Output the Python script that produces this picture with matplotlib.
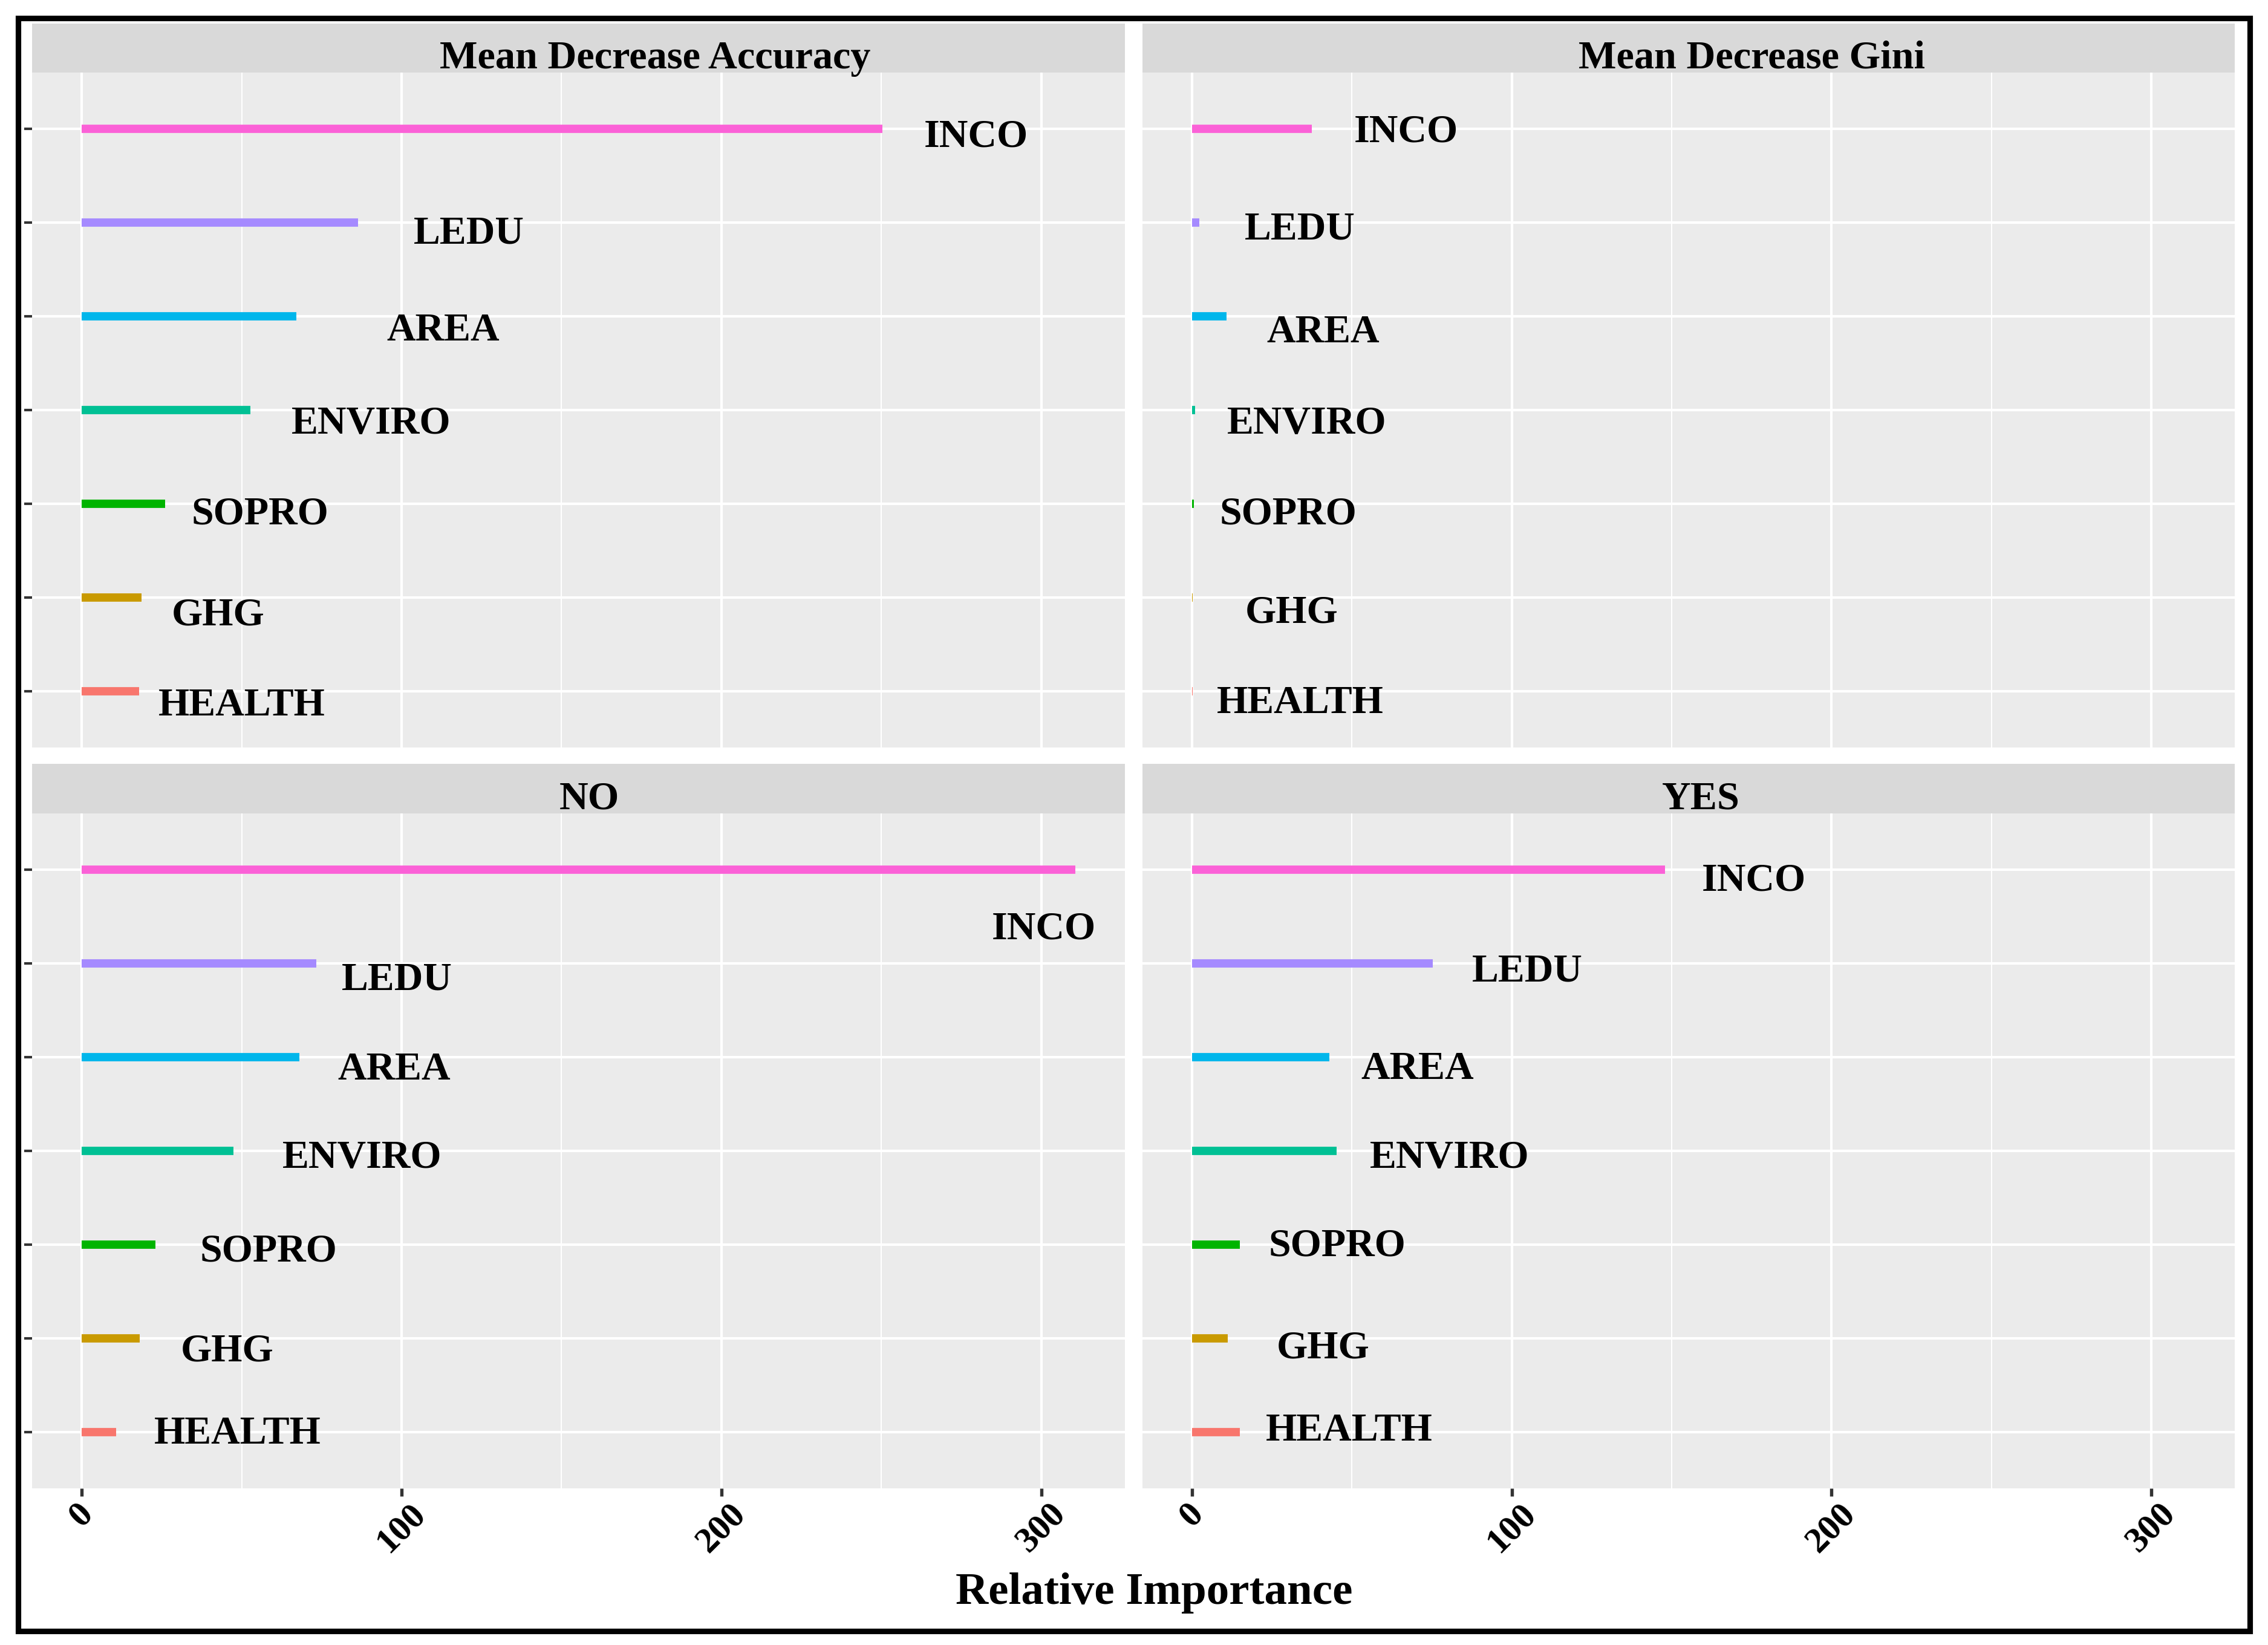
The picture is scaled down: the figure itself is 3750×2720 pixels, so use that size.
import matplotlib
matplotlib.use("Agg")
import matplotlib.pyplot as plt
from matplotlib.patches import Rectangle

# ---------------- data ----------------
variables = ["INCO", "LEDU", "AREA", "ENVIRO", "SOPRO", "GHG", "HEALTH"]
panel_titles = ["Mean Decrease Accuracy", "Mean Decrease Gini", "NO", "YES"]

mean_decrease_accuracy = [250.4, 86.4, 67.1, 52.7, 26.1, 18.6, 17.9]
mean_decrease_gini = [37.4, 2.3, 10.8, 0.9, 0.5, 0.25, 0.1]
importance_no = [310.6, 73.3, 68.0, 47.4, 23.1, 18.1, 10.8]
importance_yes = [147.9, 75.2, 42.9, 45.2, 14.9, 11.2, 14.9]

x_ticks = [0, 100, 200, 300]
x_minor = [50, 150, 250]
x_title = "Relative Importance"

# ggplot hue palette per variable
var_colors = {"INCO": "#FB61D7", "LEDU": "#A58AFF", "AREA": "#00B6EB",
              "ENVIRO": "#00C094", "SOPRO": "#00B400", "GHG": "#C99A00",
              "HEALTH": "#F8766D"}

# ---------------- label layout (repelled text offsets) ----------------
label_dx = [
    [29.1, 34.6, 45.9, 37.8, 29.6, 24.0, 32.1],
    [29.6, 31.4, 30.2, 34.9, 29.5, 30.8, 33.8],
    [-9.8, 25.2, 29.6, 40.3, 35.3, 27.3, 38.0],
    [27.8, 29.6, 27.5, 35.3, 30.5, 29.8, 34.2],
]
label_dy = [
    [-0.05, -0.08, -0.12, -0.11, -0.075, -0.155, -0.12],
    [0.0, -0.04, -0.14, -0.11, -0.075, -0.13, -0.09],
    [-0.60, -0.14, -0.10, -0.04, -0.04, -0.10, 0.015],
    [-0.08, -0.05, -0.09, -0.04, 0.02, -0.07, 0.05],
]
strip_text_x = [0.570, 0.558, 0.510, 0.511]

series = [mean_decrease_accuracy, mean_decrease_gini, importance_no, importance_yes]

W, H = 3750, 2720
fig = plt.figure(figsize=(W / 300, H / 300), dpi=300)
fig.patch.set_facecolor("white")

FONT = "Liberation Serif"

# panel geometry in pixels (left, right, top, bottom)
cols = [(53, 1860), (1889, 3695)]
rows = [(120, 1236, 39), (1345, 2461, 1263)]  # plot top, plot bottom, strip top

n = len(variables)
ypos = [n - i for i in range(n)]  # INCO at top
all_max = max(max(s) for s in series)
xlim = (-0.05 * all_max, 1.05 * all_max)

for k in range(4):
    r, c = divmod(k, 2)
    xl, xr = cols[c]
    pt, pb, st = rows[r]
    ax = fig.add_axes([xl / W, (H - pb) / H, (xr - xl) / W, (pb - pt) / H])
    ax.set_facecolor("#EBEBEB")
    for sp in ax.spines.values():
        sp.set_visible(False)
    ax.set_xlim(*xlim)
    ax.set_ylim(0.4, n + 0.6)
    ax.set_xticks(x_ticks)
    ax.set_xticks(x_minor, minor=True)
    ax.set_yticks(ypos)
    ax.grid(which="major", color="white", lw=1.0)
    ax.grid(which="minor", axis="x", color="white", lw=0.5)
    ax.set_axisbelow(True)
    ax.tick_params(axis="x", which="minor", length=0)

    vals = series[k]
    for i, v in enumerate(variables):
        ax.hlines(ypos[i], 0, vals[i], color=var_colors[v], lw=3.3,
                  capstyle="butt", zorder=3)
        ax.annotate(v, (vals[i] + label_dx[k][i], ypos[i] + label_dy[k][i]),
                    xytext=(0, -5.2), textcoords="offset points",
                    ha="center", va="baseline", fontsize=15.8,
                    fontweight="bold", family=FONT, color="black", zorder=4)

    # y axis: ticks only on left column, no labels
    if c == 0:
        ax.tick_params(axis="y", length=3.1, width=1.0, color="#333333",
                       labelleft=False)
    else:
        ax.tick_params(axis="y", length=0, labelleft=False)
    # x axis: only bottom row
    if r == 1:
        ax.tick_params(axis="x", which="major", length=3.1, width=1.3,
                       color="#333333", pad=0.5)
        ax.set_xticklabels([str(t) for t in x_ticks], rotation=45,
                           fontsize=14.3, fontweight="bold", family=FONT,
                           color="black")
    else:
        ax.tick_params(axis="x", which="major", length=0, labelbottom=False)

    # strip
    sax = fig.add_axes([xl / W, (H - pt) / H, (xr - xl) / W, (pt - st) / H])
    sax.set_facecolor("#D9D9D9")
    sax.set_xticks([])
    sax.set_yticks([])
    for sp in sax.spines.values():
        sp.set_visible(False)
    sax.text(strip_text_x[k], 0.09, panel_titles[k], transform=sax.transAxes,
             ha="center", va="baseline", fontsize=15.9, fontweight="bold",
             family=FONT, color="black")

fig.text(1908 / W, (H - 2652) / H, x_title, ha="center", va="baseline",
         fontsize=18, fontweight="bold", family=FONT, color="black")

# outer black frame
fig.patches.append(Rectangle((30.5 / W, (H - 2697) / H), (3720 - 30.5) / W,
                             (2697 - 30) / H, transform=fig.transFigure,
                             fill=False, edgecolor="black", lw=2.2))

fig.savefig("out.png", dpi=300, facecolor="white")
